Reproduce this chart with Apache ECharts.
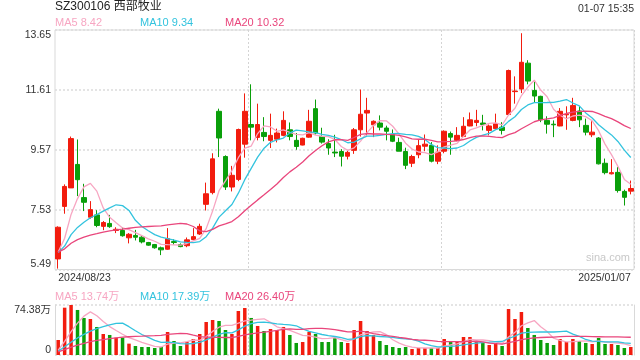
<!DOCTYPE html>
<html><head><meta charset="utf-8">
<script src="https://cdn.jsdelivr.net/npm/echarts@6/dist/echarts.min.js"></script>
<style>html,body{margin:0;padding:0;background:#fff}#c{width:640px;height:360px}</style>
</head><body><div id="c"></div>
<script>
const dates = ['2024/08/23','2024/08/26','2024/08/27','2024/08/28','2024/08/29','2024/08/30',
'2024/09/02','2024/09/03','2024/09/04','2024/09/05','2024/09/06','2024/09/09','2024/09/10','2024/09/11','2024/09/12','2024/09/13',
'2024/09/18','2024/09/19','2024/09/20','2024/09/23','2024/09/24','2024/09/25','2024/09/26','2024/09/27','2024/09/30',
'2024/10/08','2024/10/09','2024/10/10','2024/10/11','2024/10/14','2024/10/15','2024/10/16','2024/10/17','2024/10/18',
'2024/10/21','2024/10/22','2024/10/23','2024/10/24','2024/10/25','2024/10/28','2024/10/29','2024/10/30','2024/10/31',
'2024/11/01','2024/11/04','2024/11/05','2024/11/06','2024/11/07','2024/11/08','2024/11/11','2024/11/12','2024/11/13','2024/11/14','2024/11/15',
'2024/11/18','2024/11/19','2024/11/20','2024/11/21','2024/11/22','2024/11/25','2024/11/26','2024/11/27','2024/11/28','2024/11/29',
'2024/12/02','2024/12/03','2024/12/04','2024/12/05','2024/12/06','2024/12/09','2024/12/10','2024/12/11','2024/12/12','2024/12/13',
'2024/12/16','2024/12/17','2024/12/18','2024/12/19','2024/12/20','2024/12/23','2024/12/24','2024/12/25','2024/12/26','2024/12/27',
'2024/12/30','2024/12/31','2025/01/02','2025/01/03','2025/01/06','2025/01/07'];

const opens  = [5.85,7.64,8.27,9.07,7.94,7.27,7.35,6.96,7.06,6.82, 6.82,6.57,6.65,6.59,6.41,6.34,6.23,6.18,6.44,6.34,
                6.30,6.51,6.70,7.71,8.11,10.88,9.34,8.30,8.56,9.76, 10.43,9.99,10.16,9.89,9.93,10.06,10.25,9.89,9.73,10.00,
                10.97,10.02,9.78,9.49,9.51,9.35,9.55,10.25,10.82,10.42, 10.48,10.31,10.09,9.82,9.51,9.11,9.40,9.69,9.72,9.18,
                9.52,10.12,9.89,10.02,10.38,10.50,10.48,10.23,10.29,10.34, 10.77,11.55,11.64,12.52,11.59,11.39,10.57,10.44,10.38,10.76,
                10.57,10.89,10.40,10.08,9.97,9.11,8.75,8.80,8.15,8.16];
const closes = [6.93,8.32,9.95,8.55,7.78,7.53,6.99,7.09,6.95,6.86, 6.64,6.69,6.59,6.43,6.32,6.23,6.16,6.54,6.41,6.27,
                6.50,6.61,6.96,8.07,9.26,9.97,8.30,8.70,10.26,10.88, 10.34,10.43,10.02,10.06,10.14,10.57,10.02,9.68,9.96,10.54,
                10.14,9.83,9.63,9.46,9.35,9.48,10.25,10.78,10.91,10.54, 10.34,10.20,9.86,9.52,9.04,9.34,9.71,9.76,9.18,9.49,
                10.20,10.00,10.06,10.37,10.59,10.57,10.43,10.38,10.46,10.23, 12.27,11.57,12.55,11.91,11.40,10.59,10.44,10.42,10.88,10.78,
                11.08,10.59,10.17,10.17,9.09,8.79,8.79,8.18,7.95,8.25];
const lows   = [5.52,7.39,8.27,7.99,7.48,7.22,6.93,6.83,6.91,6.73, 6.61,6.38,6.48,6.38,6.30,6.20,5.98,6.16,6.34,6.25,
                6.25,6.48,6.67,7.50,8.05,9.32,8.20,8.15,8.50,9.30, 9.89,9.89,9.86,9.63,9.82,10.03,9.89,9.57,9.72,9.98,
                10.09,9.78,9.40,9.32,9.00,9.24,9.43,10.02,10.06,10.00, 10.23,9.89,9.83,9.52,8.91,8.98,9.28,9.52,9.14,9.08,
                9.45,9.40,9.86,10.02,10.37,10.37,10.23,10.06,10.25,10.09, 10.75,11.14,11.50,11.80,11.19,10.51,10.12,10.00,10.37,10.25,
                10.54,10.34,10.06,10.00,9.07,8.73,8.73,8.11,7.67,8.05];
const highs  = [6.96,8.39,10.02,9.92,8.41,7.82,7.51,7.14,7.35,6.93, 6.93,6.73,6.84,6.64,6.43,6.36,6.27,6.90,6.52,6.38,
                6.58,6.90,7.05,8.45,9.45,10.97,9.38,9.02,10.29,11.49, 11.80,11.14,10.68,10.80,10.29,10.88,10.50,10.14,9.98,10.93,
                11.28,10.32,9.93,10.08,9.59,9.54,10.31,11.62,11.34,10.57, 10.74,10.39,10.26,9.98,9.64,9.40,9.91,10.09,9.83,9.72,
                10.23,10.19,10.34,10.68,10.84,10.93,10.76,10.43,10.80,10.51, 12.30,12.07,13.54,12.62,11.88,11.41,10.71,10.57,10.99,11.05,
                11.34,11.05,10.63,10.54,10.00,9.27,9.25,8.98,8.21,8.52];
// volume in 万 (10k shares)
const volumes = [22.3,70.4,74.4,67.0,55.1,53.6,41.7,31.2,29.8,25.8, 25.8,16.9,13.4,11.9,11.9,10.4,11.9,34.2,20.8,13.4,
                 19.3,23.8,31.2,49.1,52.1,50.6,37.2,31.2,65.5,69.9, 55.1,43.2,35.7,38.7,37.2,41.7,29.8,17.9,19.3,34.2,
                 31.2,19.3,19.3,25.3,19.3,17.9,37.2,50.6,35.7,29.8, 20.8,14.9,11.9,10.4,11.9,8.9,10.4,10.4,10.4,10.4,
                 23.8,19.3,19.3,26.8,26.8,19.3,19.3,14.9,17.9,13.4, 68.4,53.6,64.0,40.2,29.8,22.3,17.9,14.9,23.8,19.3,
                 23.8,20.8,17.9,16.4,25.3,16.4,16.4,14.9,10.4,11.9];
// sessions before the window (needed for the moving averages at the left edge)
const preCloses  = [6.05,6.10,6.08,6.12,6.10,6.05,6.08,6.10,6.12,6.15,6.10,6.05,6.08,6.02,6.00,5.95,5.90,5.85,5.78];
const preVolumes = [4,4,5,4,3,4,5,4,3,4,4,5,4,3,4,4,3,3,3];

const priceTicks = [5.49, 7.53, 9.57, 11.61, 13.65];
const volMax = 74.38;
const maLegend  = ['MA5 8.42', 'MA10 9.34', 'MA20 10.32'];
const volLegend = ['MA5 13.74万', 'MA10 17.39万', 'MA20 26.40万'];
const titleText = 'SZ300106 西部牧业';
const timeText = '01-07 15:35';
const watermark = 'sina.com';

const RED = '#f21c0e', GREEN = '#0a9f0a';
const MA_COLORS = ['#f7a6c2', '#33c3de', '#e9467c'];
const FONT = '"Liberation Sans", Arial, "Noto Sans CJK SC", sans-serif';

function movingAvg(pre, arr, n) {
  const all = pre.concat(arr);
  return arr.map((_, i) => {
    const j = pre.length + i; let s = 0;
    for (let k = j - n + 1; k <= j; k++) s += all[k];
    return +(s / n).toFixed(3);
  });
}

const kData = opens.map((o, i) => [o, closes[i], lows[i], highs[i]]);
const volData = volumes.map((v, i) => ({
  value: v, itemStyle: { color: closes[i] >= opens[i] ? RED : GREEN }
}));
const periods = [5, 10, 20];

const chart = echarts.init(document.getElementById('c'), null, { renderer: 'canvas' });
const splitDot = { show: true, lineStyle: { color: '#dcdcdc', type: [2, 2], width: 1.5 } };
const vSplit = { show: true, interval: (i) => i === 30 || i === 60, lineStyle: { color: '#d4d4d4', type: [2, 2], width: 1 } };
const sideLine = { show: true, lineStyle: { color: '#d9d9d9', width: 1 } };

const option = {
  animation: false,
  backgroundColor: '#fff',
  textStyle: { fontFamily: FONT },
  grid: [
    { left: 55, right: 6, top: 30, height: 239.5, show: true, borderColor: '#d9d9d9', borderWidth: 1 },
    { left: 55, right: 6, top: 305, height: 50, show: false }
  ],
  xAxis: [
    { type: 'category', data: dates, gridIndex: 0, boundaryGap: true,
      axisLine: { show: false }, axisTick: { show: false },
      axisLabel: { show: true, interval: (i) => i === 0 || i === dates.length - 1,
        alignMinLabel: 'left', alignMaxLabel: 'right',
        color: '#333', fontSize: 10.5, fontFamily: FONT, margin: 3 },
      splitLine: vSplit },
    { type: 'category', data: dates, gridIndex: 1, boundaryGap: true,
      axisLine: { show: false }, axisTick: { show: false }, axisLabel: { show: false },
      splitLine: vSplit }
  ],
  yAxis: [
    { type: 'value', gridIndex: 0, min: priceTicks[0], max: priceTicks[priceTicks.length - 1],
      interval: +(priceTicks[1] - priceTicks[0]).toFixed(2), scale: true,
      axisLine: { show: false }, axisTick: { show: false },
      axisLabel: { color: '#333', fontSize: 10.5, fontFamily: FONT, margin: 4,
        formatter: (v) => v.toFixed(2),
        verticalAlignMinLabel: 'bottom', verticalAlignMaxLabel: 'top' },
      splitLine: splitDot },
    { type: 'value', gridIndex: 1, min: 0, max: volMax, interval: volMax, position: 'left',
      axisLine: sideLine, axisTick: { show: false },
      axisLabel: { color: '#333', fontSize: 10.5, fontFamily: FONT, margin: 4,
        formatter: (v) => v === 0 ? '0' : v.toFixed(2) + '万',
        verticalAlignMinLabel: 'bottom', verticalAlignMaxLabel: 'top' },
      splitLine: splitDot },
    { type: 'value', gridIndex: 1, min: 0, max: volMax, interval: volMax, position: 'right',
      axisLine: sideLine, axisTick: { show: false }, axisLabel: { show: false }, splitLine: { show: false } }
  ],
  series: [
    { type: 'candlestick', name: 'K', xAxisIndex: 0, yAxisIndex: 0, data: kData, barWidth: 5,
      itemStyle: { color: RED, color0: GREEN, borderColor: RED, borderColor0: GREEN, borderWidth: 1 } },
    ...periods.map((p, k) => ({
      type: 'line', name: 'MA' + p, xAxisIndex: 0, yAxisIndex: 0, data: movingAvg(preCloses, closes, p),
      showSymbol: false, symbol: 'none', lineStyle: { color: MA_COLORS[k], width: 1.3 }, z: 3
    })),
    { type: 'bar', name: 'VOL', xAxisIndex: 1, yAxisIndex: 1, data: volData, barWidth: 3.5 },
    ...periods.map((p, k) => ({
      type: 'line', name: 'VMA' + p, xAxisIndex: 1, yAxisIndex: 1, data: movingAvg(preVolumes, volumes, p),
      showSymbol: false, symbol: 'none', lineStyle: { color: MA_COLORS[k], width: 1.3 }, z: 3
    }))
  ],
  graphic: [
    { type: 'text', left: 55, top: 1, style: { text: titleText, fill: '#222', font: '12px ' + FONT } },
    { type: 'text', right: 6, top: 4, style: { text: timeText, fill: '#333', font: '10.5px ' + FONT } },
    ...maLegend.map((t, k) => ({ type: 'text', left: 55 + 85 * k, top: 17,
      style: { text: t, fill: MA_COLORS[k], font: '11px ' + FONT } })),
    ...volLegend.map((t, k) => ({ type: 'text', left: 55 + 85 * k, top: 291,
      style: { text: t, fill: MA_COLORS[k], font: '11px ' + FONT } })),
    { type: 'text', right: 10, top: 252, style: { text: watermark, fill: '#c8c8c8', font: '11px ' + FONT } }
  ]
};
chart.setOption(option);
</script></body></html>
